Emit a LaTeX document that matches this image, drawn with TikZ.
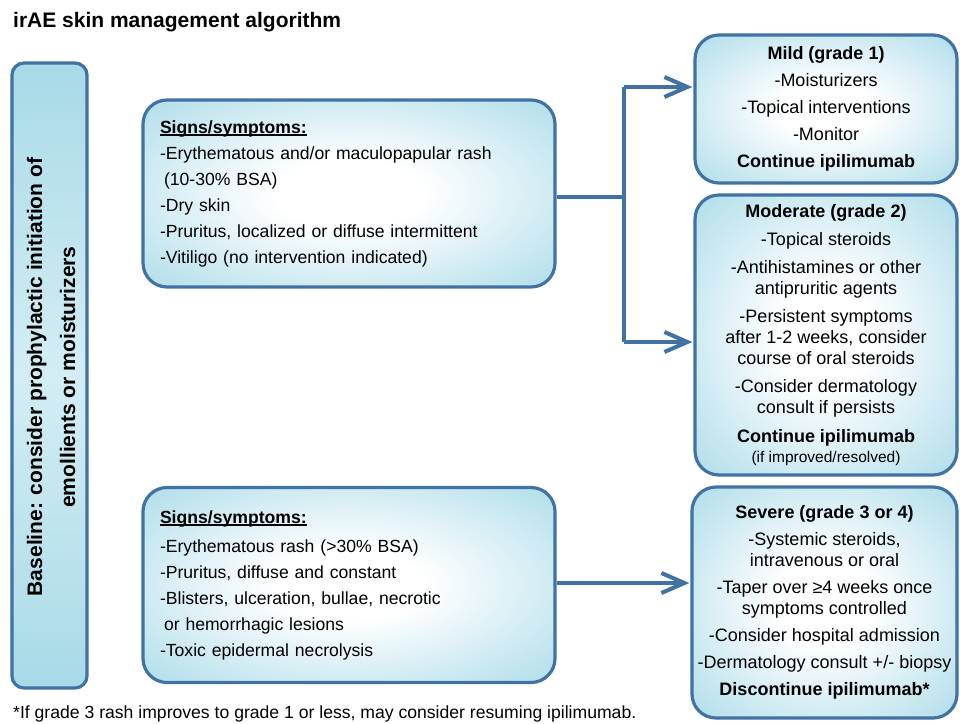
\documentclass[tikz,border=0pt]{standalone}
\usepackage{fontspec}
\setmainfont{Liberation Sans}
\usetikzlibrary{arrows.meta}
\definecolor{edgeblue}{RGB}{64,114,164}
\definecolor{boxfill}{RGB}{168,218,232}
\definecolor{bandfill}{RGB}{212,237,244}
\pgfdeclareradialshading{boxglow}{\pgfpointorigin}{color(0bp)=(white); color(9bp)=(white); color(38bp)=(boxfill); color(50bp)=(boxfill)}
\newcommand{\sigul}[1]{\setbox0\hbox{#1}\rlap{\rule[-2.6pt]{\wd0}{1.3pt}}\box0}
\tikzset{
  box/.style={draw=edgeblue, line width=3.2pt, shading=boxglow, rounded corners=24pt, inner sep=0pt, text=black},
  signsbox/.style={box, minimum width=412pt, text width=378pt, align=left, font=\fontsize{17.6}{26}\selectfont},
  gradebox/.style={box, align=center, font=\fontsize{18}{21}\selectfont},
  conn/.style={draw=edgeblue, line width=4pt},
  arr/.style={conn, -{Straight Barb[length=23pt,width=20pt]}},
}
\begin{document}
\begin{tikzpicture}[x=1pt,y=-1pt]
\useasboundingbox (0,0) rectangle (960,723);

% title
\node[anchor=base west, inner sep=0pt, font=\fontsize{21}{25}\selectfont\bfseries] (title) at (13,27) {irAE skin management algorithm};

% baseline box
\node[draw=edgeblue, line width=3.2pt, rounded corners=12pt, top color=boxfill, bottom color=boxfill, middle color=bandfill,
      minimum width=75pt, minimum height=625pt, inner sep=0pt] (base) at (49.5,375.5) {};
\node[rotate=90, align=center, inner sep=0pt, font=\fontsize{21}{33}\selectfont\bfseries] (basetext) at (51,377)
  {Baseline: consider prophylactic initiation of\\emollients or moisturizers};

% signs/symptoms boxes
\node[signsbox, minimum height=187pt] (ts) at (349,193.5) {%
\textbf{\sigul{Signs/symptoms:}}\\
-Erythematous and/or maculopapular rash\\
\hspace*{4pt}(10-30\% BSA)\\
-Dry skin\\
-Pruritus, localized or diffuse intermittent\\
-Vitiligo (no intervention indicated)};

\node[signsbox, minimum height=195pt] (bs) at (349,585) {%
\textbf{\sigul{Signs/symptoms:}}\\[3pt]
-Erythematous rash (>30\% BSA)\\
-Pruritus, diffuse and constant\\
-Blisters, ulceration, bullae, necrotic\\
\hspace*{4pt}or hemorrhagic lesions\\
-Toxic epidermal necrolysis};

% grade boxes
\node[gradebox, minimum width=262pt, minimum height=148pt] (mild) at (826,109) {%
\textbf{Mild (grade 1)}\\[6pt]
-Moisturizers\\[6pt]
-Topical interventions\\[6pt]
-Monitor\\[6pt]
\textbf{Continue ipilimumab}};

\node[gradebox, minimum width=262pt, minimum height=280pt] (mod) at (826,335) {%
\textbf{Moderate (grade 2)}\\[7pt]
-Topical steroids\\[7pt]
-Antihistamines or other\\
antipruritic agents\\[7pt]
-Persistent symptoms\\
after 1-2 weeks, consider\\
course of oral steroids\\[7pt]
-Consider dermatology\\
consult if persists\\[8pt]
\textbf{Continue ipilimumab}\\[-1pt]
{\fontsize{15.5}{19}\selectfont (if improved/resolved)}};

\node[gradebox, minimum width=265pt, minimum height=231pt] (sev) at (824.5,602.5) {%
\textbf{Severe (grade 3 or 4)}\\[6pt]
-Systemic steroids,\\
intravenous or oral\\[6pt]
-Taper over ≥4 weeks once\\
symptoms controlled\\[6pt]
-Consider hospital admission\\[6pt]
-Dermatology consult +/- biopsy\\[6pt]
\textbf{Discontinue ipilimumab*}};

% connectors
\coordinate (j) at (624,197);
\coordinate (ja) at (624,87);
\coordinate (jb) at (624,342);
\draw[conn] (ts.east |- j) -- (j);
\draw[conn] (ja) -- (jb);
\draw[arr] (ja) -- ([xshift=-1pt]mild.west |- ja);
\draw[arr] (jb) -- ([xshift=-1pt]mod.west |- jb);
\coordinate (k) at (600,583);
\draw[arr] (bs.east |- k) -- ([xshift=-1pt]sev.west |- k);

% footnote
\node[anchor=base west, inner sep=0pt, font=\fontsize{17.6}{20}\selectfont] (foot) at (13,718)
  {*If grade 3 rash improves to grade 1 or less, may consider resuming ipilimumab.};
\end{tikzpicture}
\end{document}
